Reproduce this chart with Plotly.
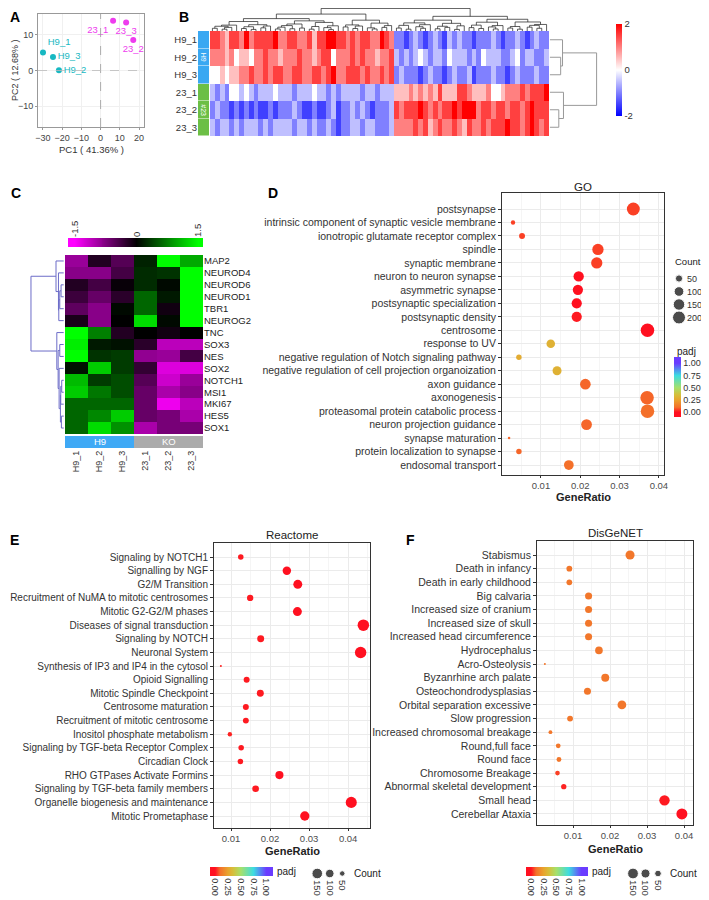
import numpy as np
import plotly.graph_objects as go

W, H = 709, 900
OFF = 8  # the page body has a default 8px margin; positions below are window pixels
FONT = "Liberation Sans, Arial, Helvetica, sans-serif"


def X(px):
    return (px - OFF) / W


def Y(py):
    return 1 - (py - OFF) / H


# ---------------- Panel A : PCA ----------------
pca_samples = ["H9_1", "H9_3", "H9_2", "23_1", "23_3", "23_2"]
pca_pc1 = [-30.0, -24.8, -21.7, 6.5, 13.3, 17.0]
pca_pc2 = [5.1, 3.8, 0.1, 14.0, 13.5, 8.6]
pca_group = ["H9", "H9", "H9", "23", "23", "23"]
pca_ticks_x = [-30, -20, -10, 0, 10, 20]
pca_ticks_y = [-10, 0, 10]

# ---------------- Panel B : DEG heatmap ----------------
b_rows = ["H9_1", "H9_2", "H9_3", "23_1", "23_2", "23_3"]
b_groups = ["H9", "H9", "H9", "#23", "#23", "#23"]
# z-score per column, coded 0..8  ->  (code-4)/2  = -2 .. 2
b_row_codes = [
    "7765776867" "7778667766" "7577887767" "67766876" "2212321232" "1323221222" "3212232123" "22",
    "6665645546" "6766566676" "6567746667" "67665667" "3232343233" "2433323243" "3322342332" "23",
    "4454556676" "6767766776" "6776786677" "76766767" "2322212322" "1232231222" "3221232223" "22",
    "3232443432" "3334333233" "3433232333" "32332333" "5556565657" "5557765556" "4456667677" "78",
    "2322121212" "1121222321" "1211231223" "23212223" "7677787676" "7787888677" "6776776787" "77",
    "3233232333" "2323333233" "2322321223" "32332223" "6666767567" "6676576676" "7778776787" "67",
]
# merge heights between adjacent (ordered) columns / rows -> dendrograms
b_col_gaps = [1.2, 2.1, 0.8, 1.6, 2.6, 4.2, 1.1, 1.9, 0.7, 2.8,
              1.4, 2.2, 5.5, 0.9, 1.7, 2.4, 1.0, 3.1, 1.3, 4.5,
              0.8, 2.0, 3.8, 1.5, 0.6, 2.3, 7.5, 1.8, 2.7, 1.1,
              2.2, 4.8, 1.4, 0.9, 3.5, 1.6, 2.4,
              10.0,
              1.3, 2.5, 0.8, 3.6, 1.9, 1.2, 2.8, 4.8, 1.0, 2.1,
              1.6, 3.4, 0.7, 2.3, 6.5, 1.5, 2.6, 1.1, 3.9, 1.8,
              0.9, 2.4, 5.2, 1.3, 2.0, 0.8, 4.0, 1.7, 2.5, 1.2, 2.9]
b_row_gaps = [2.7, 2.3, 10.0, 2.9, 1.9]
b_ticks = [-2, 0, 2]

# ---------------- Panel C : marker genes ----------------
c_genes = ["MAP2", "NEUROD4", "NEUROD6", "NEUROD1", "TBR1", "NEUROG2", "TNC", "SOX3",
           "NES", "SOX2", "NOTCH1", "MSI1", "MKI67", "HES5", "SOX1"]
c_samples = ["H9_1", "H9_2", "H9_3", "23_1", "23_2", "23_3"]
c_groups = ["H9", "H9", "H9", "KO", "KO", "KO"]
c_z = [
    [-0.9, -0.2, -0.5, 0.2, 1.5, 1.0],
    [-0.8, -0.8, -0.4, 0.25, 0.3, 1.5],
    [-0.2, -0.4, -0.05, 0.25, 0.05, 1.5],
    [-0.35, -0.6, -0.25, 0.6, 0.15, 1.5],
    [-0.55, -0.8, 0.05, 0.6, -0.1, 1.5],
    [-0.15, -0.8, 0.0, 1.3, 0.05, 1.5],
    [1.5, 0.75, -0.2, 0.0, -0.1, 0.0],
    [1.4, 0.15, 0.1, -0.25, -1.1, -1.1],
    [1.5, 0.3, 0.35, -0.85, -0.9, -0.4],
    [0.1, 1.2, 0.35, -0.3, -1.3, -1.3],
    [1.1, 0.35, 0.45, -0.5, -1.2, -0.9],
    [1.2, 0.7, 0.45, -0.6, -1.0, -0.8],
    [0.6, 0.6, 0.6, -0.6, -1.4, -1.1],
    [0.6, 0.8, 1.2, -0.6, -0.7, -1.0],
    [0.6, 1.3, 0.85, -1.0, -0.7, -0.7],
]
c_row_gaps = [2.35, 1.6, 0.8, 1.2, 1.5, 10.0, 2.1, 1.2, 1.7, 1.4, 0.6, 0.9, 1.0, 0.7]
c_ticks = [-1.5, 0, 1.5]

# ---------------- Panel D : GO ----------------
go_terms = ["postsynapse", "intrinsic component of synaptic vesicle membrane",
            "ionotropic glutamate receptor complex", "spindle", "synaptic membrane",
            "neuron to neuron synapse", "asymmetric synapse", "postsynaptic specialization",
            "postsynaptic density", "centrosome", "response to UV",
            "negative regulation of Notch signaling pathway",
            "negative regulation of cell projection organoization", "axon guidance",
            "axonogenesis", "proteasomal protein catabolic process",
            "neuron projection guidance", "synapse maturation",
            "protein localization to synapse", "endosomal transport"]
go_ratio = [0.0335, 0.0029, 0.0052, 0.0245, 0.0242, 0.0196, 0.0194, 0.0191, 0.0191, 0.0371,
            0.0125, 0.0044, 0.0141, 0.0213, 0.0370, 0.0371, 0.0216, 0.0019, 0.0044, 0.0171]
go_count = [198, 17, 31, 145, 143, 116, 114, 113, 113, 219,
            74, 26, 83, 126, 218, 219, 128, 11, 26, 101]
go_padj = [0.05, 0.05, 0.05, 0.05, 0.05, 0.0, 0.0, 0.0, 0.01, 0.0,
           0.30, 0.28, 0.30, 0.09, 0.09, 0.10, 0.09, 0.09, 0.09, 0.10]
go_legend_counts = [50, 100, 150, 200]

# ---------------- Panel E : Reactome ----------------
re_terms = ["Signaling by NOTCH1", "Signalling by NGF", "G2/M Transition",
            "Recruitment of NuMA to mitotic centrosomes", "Mitotic G2-G2/M phases",
            "Diseases of signal transduction", "Signaling by NOTCH", "Neuronal System",
            "Synthesis of IP3 and IP4 in the cytosol", "Opioid Signalling",
            "Mitotic Spindle Checkpoint", "Centrosome maturation",
            "Recruitment of mitotic centrosome", "Inositol phosphate metabolism",
            "Signaling by TGF-beta Receptor Complex", "Circadian Clock",
            "RHO GTPases Activate Formins", "Signaling by TGF-beta family members",
            "Organelle biogenesis and maintenance", "Mitotic Prometaphase"]
re_ratio = [0.0125, 0.0243, 0.0271, 0.0149, 0.0270, 0.0439, 0.0176, 0.0432, 0.0074, 0.0140,
            0.0175, 0.0138, 0.0138, 0.0097, 0.0126, 0.0124, 0.0224, 0.0163, 0.0408, 0.0289]
re_count = [50, 97, 108, 60, 108, 176, 70, 173, 30, 56,
            70, 55, 55, 39, 50, 50, 90, 65, 163, 116]
re_padj = [0.01, 0.00, 0.00, 0.01, 0.00, 0.00, 0.01, 0.00, 0.02, 0.01,
           0.01, 0.01, 0.01, 0.02, 0.01, 0.01, 0.00, 0.01, 0.00, 0.00]
re_legend_counts = [150, 100, 50]

# ---------------- Panel F : DisGeNET ----------------
dg_terms = ["Stabismus", "Death in infancy", "Death in early childhood", "Big calvaria",
            "Increased size of cranium", "Increased size of skull",
            "Increased head circumference", "Hydrocephalus", "Acro-Osteolysis",
            "Byzanrhine arch palate", "Osteochondrodysplasias",
            "Orbital separation excessive", "Slow progression",
            "Increased chromosomal breakage", "Round,full face", "Round face",
            "Chromosome Breakage", "Abnormal skeletal development", "Small head",
            "Cerebellar Ataxia"]
dg_ratio = [0.0254, 0.0090, 0.0090, 0.0142, 0.0142, 0.0142, 0.0142, 0.0170, 0.0024, 0.0187,
            0.0139, 0.0232, 0.0092, 0.0039, 0.0060, 0.0062, 0.0058, 0.0075, 0.0347, 0.0394]
dg_count = [102, 36, 36, 57, 57, 57, 57, 68, 10, 75,
            56, 93, 37, 16, 24, 25, 23, 30, 139, 158]
dg_padj = [0.12, 0.12, 0.12, 0.12, 0.12, 0.12, 0.12, 0.12, 0.12, 0.12,
           0.12, 0.12, 0.12, 0.12, 0.12, 0.12, 0.05, 0.02, 0.01, 0.0]
dg_legend_counts = [150, 100, 50]

padj_ticks = [0.0, 0.25, 0.5, 0.75, 1.0]

# ======================= styling helpers =======================
PADJ_STOPS = [(0.0, "#FF1020"), (0.1, "#F4702A"), (0.25, "#E8A42E"), (0.35, "#D6BE3A"),
              (0.5, "#A6E06A"), (0.75, "#3CDCE0"), (1.0, "#6A3CFF")]
CMIN, CMAX = -0.1, 1.13
PADJ_SCALE = ([[0.0, PADJ_STOPS[0][1]]] +
              [[(p - CMIN) / (CMAX - CMIN), c] for p, c in PADJ_STOPS] +
              [[1.0, PADJ_STOPS[-1][1]]])

fig = go.Figure()
BLANK = dict(showgrid=False, zeroline=False, showticklabels=False, ticks="", showline=False)


def make_axes(n, xpx, ypx, xkw=None, ykw=None):
    xn = "xaxis" if n == 1 else f"xaxis{n}"
    yn = "yaxis" if n == 1 else f"yaxis{n}"
    xr = "x" if n == 1 else f"x{n}"
    yr = "y" if n == 1 else f"y{n}"
    xa = dict(BLANK, domain=[max(X(xpx[0]), 0), min(X(xpx[1]), 1)], anchor=yr)
    ya = dict(BLANK, domain=[max(Y(ypx[1]), 0), min(Y(ypx[0]), 1)], anchor=xr)
    if xkw:
        xa.update(xkw)
    if ykw:
        ya.update(ykw)
    fig.update_layout({xn: xa, yn: ya})
    return xr, yr


def dendro(gaps):
    gaps = np.asarray(gaps, dtype=float)
    pos, hts = [], []

    def build(lo, hi):
        if lo == hi:
            return float(lo), 0.0
        k = lo + int(np.argmax(gaps[lo:hi]))
        xl, hl = build(lo, k)
        xr_, hr = build(k + 1, hi)
        h = gaps[k]
        pos.extend([xl, xl, xr_, xr_, None])
        hts.extend([hl, h, h, hr, None])
        return (xl + xr_) / 2, h

    build(0, len(gaps))
    return pos, hts


def size_scale(counts, dmin, dmax):
    lo, hi = min(counts), max(counts)

    def f(c):
        t = min(max((c - lo) / (hi - lo), 0.0), 1.0)
        return dmin + (dmax - dmin) * np.sqrt(t)
    return f


annotations = []


def ann(text, xpx, ypx, size=10, color="#222", xanchor="center", yanchor="middle", bold=False, angle=0, **kw):
    annotations.append(dict(text=f"<b>{text}</b>" if bold else text, x=X(xpx), y=Y(ypx),
                            xref="paper", yref="paper", showarrow=False, xanchor=xanchor,
                            yanchor=yanchor, textangle=angle,
                            font=dict(size=size, color=color, family=FONT), **kw))


# ======================= Panel A =======================
pca_colors = {"H9": "#17B8C2", "23": "#EE3BEE"}
pca_textpos = ["top right", "middle right", "middle right", "bottom left", "bottom center", "bottom center"]
A_AX = dict(showticklabels=True, ticks="outside", ticklen=2, tickcolor="#999", showgrid=True,
            gridcolor="#F0F0F0", showline=True, mirror=True, linecolor="#999", linewidth=1,
            tickfont=dict(size=9, color="#444", family=FONT))
xr, yr = make_axes(1, (38, 144), (14, 127),
                   dict(A_AX, range=[-32.6, 22.6], tickvals=pca_ticks_x),
                   dict(A_AX, range=[-15.9, 15.9], tickvals=pca_ticks_y))
for g in ["H9", "23"]:
    idx = [i for i, gg in enumerate(pca_group) if gg == g]
    fig.add_trace(go.Scatter(
        x=[pca_pc1[i] for i in idx], y=[pca_pc2[i] for i in idx], text=[pca_samples[i] for i in idx],
        textposition=[pca_textpos[i] for i in idx], mode="markers+text", xaxis=xr, yaxis=yr,
        marker=dict(size=6, color=pca_colors[g]), textfont=dict(size=9.5, color=pca_colors[g], family=FONT),
        cliponaxis=False))
shapes = [
    dict(type="line", xref="x", yref="y domain", x0=0, x1=0, y0=0, y1=1,
         line=dict(color="#999", width=0.8, dash="dash")),
    dict(type="line", xref="x domain", yref="y", x0=0, x1=1, y0=0, y1=0,
         line=dict(color="#BBB", width=0.8, dash="dash")),
]
ann("PC1 ( 41.36% )", 91, 149, size=9.5, color="#333")
ann("PC2 ( 12.68% )", 15, 70, size=9, color="#333", angle=-90)

# ======================= Panel B =======================
n_bcols = len(b_row_codes[0])
b_z = [[(int(ch) - 4) / 2 for ch in row] for row in b_row_codes]
xr, yr = make_axes(2, (210, 549), (31, 136), dict(range=[-0.5, n_bcols - 0.5]), dict(range=[5.5, -0.5]))
fig.add_trace(go.Heatmap(
    z=b_z, x=list(range(n_bcols)), y=list(range(len(b_rows))), xaxis=xr, yaxis=yr,
    colorscale=[[0, "#0000FF"], [0.5, "#FFFFFF"], [1, "#FF0000"]], zmin=-2, zmax=2,
    colorbar=dict(x=X(616), xanchor="left", y=Y(70), yanchor="middle", len=92, lenmode="pixels",
                  thickness=6, tickvals=b_ticks, ticktext=[str(t) for t in b_ticks], outlinewidth=0,
                  xpad=0, ypad=0, ticks="", tickfont=dict(size=9.5, color="#333", family=FONT))))

# column dendrogram
xr, yr = make_axes(3, (210, 549), (8, 31), dict(range=[-0.5, n_bcols - 0.5]), dict(range=[0, 10.2]))
p, h = dendro(b_col_gaps)
fig.add_trace(go.Scatter(x=p, y=h, mode="lines", xaxis=xr, yaxis=yr,
                         line=dict(color="#1A1A1A", width=0.7), hoverinfo="skip"))
# row dendrogram
xr, yr = make_axes(4, (549, 598), (31, 136), dict(range=[-0.2, 10.3]), dict(range=[5.5, -0.5]))
p, h = dendro(b_row_gaps)
fig.add_trace(go.Scatter(x=h, y=p, mode="lines", xaxis=xr, yaxis=yr,
                         line=dict(color="#999", width=1), hoverinfo="skip"))
# group annotation bar + row labels
b_group_names = ["H9", "#23"]
xr, yr = make_axes(5, (198, 209), (31, 136), dict(range=[-0.5, 0.5]),
                   dict(range=[5.5, -0.5], showticklabels=True, tickvals=list(range(len(b_rows))),
                        ticktext=b_rows, tickfont=dict(size=9.5, color="#333", family=FONT)))
fig.add_trace(go.Heatmap(z=[[b_group_names.index(g)] for g in b_groups], x=[0], y=list(range(len(b_rows))),
                         xaxis=xr, yaxis=yr, colorscale=[[0, "#3AA8F2"], [1, "#6CBF45"]],
                         zmin=0, zmax=1, showscale=False, ygap=0.5))
for gname in b_group_names:
    idx = [i for i, g in enumerate(b_groups) if g == gname]
    annotations.append(dict(text=gname, x=0, y=float(np.mean(idx)), xref=xr, yref=yr, showarrow=False,
                            textangle=90, font=dict(size=7, color="white", family=FONT)))

# ======================= Panel C =======================
xr, yr = make_axes(6, (65, 203), (255, 434), dict(range=[-0.5, 5.5]),
                   dict(range=[len(c_genes) - 0.5, -0.5], side="right", showticklabels=True,
                        tickvals=list(range(len(c_genes))), ticktext=c_genes,
                        tickfont=dict(size=9.5, color="#222", family=FONT)))
C_SCALE = [[0, "#FF00FF"], [0.5, "#000000"], [1, "#00FF00"]]
fig.add_trace(go.Heatmap(z=c_z, x=list(range(len(c_samples))), y=list(range(len(c_genes))),
                         xaxis=xr, yaxis=yr, colorscale=C_SCALE, zmin=-1.5, zmax=1.5, showscale=False))
# row dendrogram
xr, yr = make_axes(7, (30, 65), (255, 434), dict(range=[10.3, -0.4]), dict(range=[len(c_genes) - 0.5, -0.5]))
p, h = dendro(c_row_gaps)
fig.add_trace(go.Scatter(x=h, y=p, mode="lines", xaxis=xr, yaxis=yr,
                         line=dict(color="#6C6CC8", width=1), hoverinfo="skip"))
# colour key strip (top)
key_x = np.linspace(-1.67, 1.62, 140)
xr, yr = make_axes(8, (68, 203), (238, 247),
                   dict(range=[-1.67, 1.62], side="top", showticklabels=True, tickvals=c_ticks,
                        ticktext=[str(t) for t in c_ticks], tickangle=-90,
                        tickfont=dict(size=9.5, color="#333", family=FONT)),
                   dict(range=[-0.5, 0.5]))
fig.add_trace(go.Heatmap(z=[np.clip(key_x, -1.5, 1.5)], x=key_x, y=[0], xaxis=xr, yaxis=yr,
                         colorscale=C_SCALE, zmin=-1.5, zmax=1.5, showscale=False))
# group bar + sample labels
c_group_names = ["H9", "KO"]
xr, yr = make_axes(9, (65, 203), (436, 448),
                   dict(range=[-0.5, 5.5], showticklabels=True, tickvals=list(range(len(c_samples))),
                        ticktext=c_samples, tickangle=-90, tickfont=dict(size=9, color="#333", family=FONT)),
                   dict(range=[-0.5, 0.5]))
fig.add_trace(go.Heatmap(z=[[c_group_names.index(g) for g in c_groups]], x=list(range(len(c_samples))), y=[0],
                         xaxis=xr, yaxis=yr, colorscale=[[0, "#3FA9F5"], [1, "#ABABAB"]], zmin=0, zmax=1,
                         showscale=False))
for gname in c_group_names:
    idx = [i for i, g in enumerate(c_groups) if g == gname]
    annotations.append(dict(text=gname, x=float(np.mean(idx)), y=0, xref=xr, yref=yr, showarrow=False,
                            font=dict(size=9.5, color="white", family=FONT)))


# ======================= Enrichment dot plots =======================
def dot_panel(n, xpx, ypx, xrange, top_pad, bot_pad, terms, ratio, count, padj, fsize, sfun, cbar):
    nrow = len(terms)
    xa = dict(range=xrange, tickvals=[0.01, 0.02, 0.03, 0.04], ticktext=["0.01", "0.02", "0.03", "0.04"],
              showticklabels=True, showgrid=True, gridcolor="#EBEBEB", gridwidth=1,
              minor=dict(dtick=0.005, tick0=0, showgrid=True, gridcolor="#F5F5F5", gridwidth=0.6),
              showline=True, mirror=True, linecolor="#333", linewidth=1, ticks="outside", ticklen=2,
              tickcolor="#333", tickfont=dict(size=9.5, color="#4D4D4D", family=FONT))
    ya = dict(range=[nrow - 1 + bot_pad, -top_pad], tickvals=list(range(nrow)), ticktext=terms,
              showticklabels=True, showgrid=True, gridcolor="#EBEBEB", gridwidth=1, showline=True,
              mirror=True, linecolor="#333", linewidth=1, ticks="outside", ticklen=3, tickcolor="#333",
              tickfont=dict(size=fsize, color="#333", family=FONT))
    xr, yr = make_axes(n, xpx, ypx, xa, ya)
    fig.add_trace(go.Scatter(
        x=ratio, y=list(range(nrow)), mode="markers", xaxis=xr, yaxis=yr, cliponaxis=False,
        marker=dict(size=[sfun(c) for c in count], color=padj, colorscale=PADJ_SCALE, cmin=CMIN,
                    cmax=CMAX, line=dict(width=0), opacity=1, colorbar=cbar, showscale=True)))


CB_COMMON = dict(tickvals=padj_ticks, ticktext=[f"{t:.2f}" for t in padj_ticks], outlinewidth=0,
                 xpad=0, ypad=0, ticks="", tickfont=dict(size=9, color="#333", family=FONT),
                 lenmode="pixels")

# ---- D
go_sf = size_scale(go_count, 2.5, 13.5)
dot_panel(10, (502, 664), (193, 475), [0.0001, 0.0413], 1.19, 0.74, go_terms, go_ratio, go_count,
          go_padj, 10.5, go_sf,
          dict(CB_COMMON, x=X(674), xanchor="left", y=Y(387), yanchor="middle", len=60, thickness=7))
ann("padj", 675, 351, size=10, color="#222", xanchor="left")
ann("GO", 583, 187, size=11.5, color="#222")
ann("GeneRatio", 583, 497, size=11, color="#222", bold=True)
xr, yr = make_axes(13, (672, 686), (272, 324), dict(range=[-1, 1]),
                   dict(range=[len(go_legend_counts) - 0.5, -0.5], side="right", showticklabels=True,
                        tickvals=list(range(len(go_legend_counts))), ticktext=[str(c) for c in go_legend_counts],
                        tickfont=dict(size=9, color="#333", family=FONT)))
fig.add_trace(go.Scatter(x=[0] * len(go_legend_counts), y=list(range(len(go_legend_counts))), mode="markers",
                         xaxis=xr, yaxis=yr, cliponaxis=False,
                         marker=dict(size=[go_sf(c) for c in go_legend_counts], color="black")))
ann("Count", 673, 262, size=9.5, color="#222", xanchor="left")

# ---- E
re_sf = size_scale(re_count, 2.0, 11.5)
dot_panel(11, (214, 370), (543, 828), [0.00564, 0.0456], 1.03, 0.88, re_terms, re_ratio, re_count,
          re_padj, 10, re_sf,
          dict(CB_COMMON, orientation="h", x=X(241.5), xanchor="center", y=Y(867), yanchor="top",
               len=63, thickness=9, tickangle=90))
ann("padj", 275, 871, size=10, color="#222", xanchor="left")
ann("Reactome", 292, 535, size=11.5, color="#222")
ann("GeneRatio", 292, 851, size=11, color="#222", bold=True)
xr, yr = make_axes(14, (311, 348.5), (868, 879),
                   dict(range=[-0.5, len(re_legend_counts) - 0.5], showticklabels=True,
                        tickvals=list(range(len(re_legend_counts))), ticktext=[str(c) for c in re_legend_counts],
                        tickangle=90, tickfont=dict(size=9.5, color="#333", family=FONT)),
                   dict(range=[-1, 1]))
fig.add_trace(go.Scatter(x=list(range(len(re_legend_counts))), y=[0] * len(re_legend_counts), mode="markers",
                         xaxis=xr, yaxis=yr, cliponaxis=False,
                         marker=dict(size=[re_sf(c) for c in re_legend_counts], color="black")))
ann("Count", 352, 873, size=10, color="#222", xanchor="left")

# ---- F
dg_sf = size_scale(dg_count, 2.0, 11.0)
dot_panel(12, (537, 693), (541, 825), [0.00027, 0.0424], 1.03, 0.81, dg_terms, dg_ratio, dg_count,
          dg_padj, 10.5, dg_sf,
          dict(CB_COMMON, orientation="h", x=X(557), xanchor="center", y=Y(867), yanchor="top",
               len=62, thickness=9, tickangle=90))
ann("padj", 590, 871, size=10, color="#222", xanchor="left")
ann("DisGeNET", 615, 533, size=11.5, color="#222")
ann("GeneRatio", 615, 849, size=11, color="#222", bold=True)
xr, yr = make_axes(15, (626.75, 664.25), (868, 879),
                   dict(range=[-0.5, len(dg_legend_counts) - 0.5], showticklabels=True,
                        tickvals=list(range(len(dg_legend_counts))), ticktext=[str(c) for c in dg_legend_counts],
                        tickangle=90, tickfont=dict(size=9.5, color="#333", family=FONT)),
                   dict(range=[-1, 1]))
fig.add_trace(go.Scatter(x=list(range(len(dg_legend_counts))), y=[0] * len(dg_legend_counts), mode="markers",
                         xaxis=xr, yaxis=yr, cliponaxis=False,
                         marker=dict(size=[dg_sf(c) for c in dg_legend_counts], color="black")))
ann("Count", 668, 873, size=10, color="#222", xanchor="left")

# ======================= panel letters =======================
for letter, (lx, ly) in {"A": (15, 17), "B": (184, 17), "C": (16, 193), "D": (273, 193),
                         "E": (14, 540), "F": (410, 540)}.items():
    ann(letter, lx, ly, size=14, color="#000", bold=True)

fig.update_layout(width=W, height=H, margin=dict(l=0, r=0, t=0, b=0, autoexpand=False),
                  paper_bgcolor="white", plot_bgcolor="white", showlegend=False, hovermode=False,
                  font=dict(family=FONT), annotations=annotations, shapes=shapes)
fig.write_html("out.html")
